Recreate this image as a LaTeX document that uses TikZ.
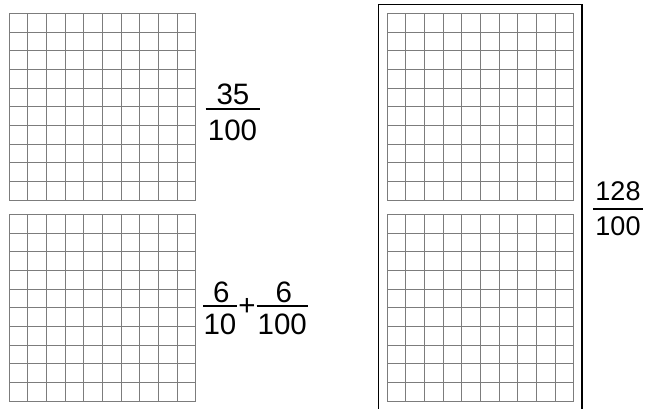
\documentclass[tikz,border=0pt]{standalone}
\usepackage{fontspec}
\setmainfont{Liberation Sans}
\usetikzlibrary{positioning}
\definecolor{gridgray}{HTML}{7C7C7C}

\tikzset{
  cell/.style={draw=gridgray, line width=1pt},
  digits/.style={inner sep=0pt, anchor=base, font=\fontsize{29.5}{32}\selectfont},
  digitsR/.style={inner sep=0pt, anchor=base, font=\fontsize{27}{30}\selectfont},
  fracbar/.style={line width=1.4pt},
}

\begin{document}
\begin{tikzpicture}[x=1pt, y=-1pt]
  \useasboundingbox (0,0) rectangle (653,408);
  % hundred grids
  \foreach \gx/\gy in {9.3/13.7, 9.3/214.6, 387.3/13.7, 387.3/214.6}{
    \foreach \i in {0,...,10}{
      \pgfmathsetmacro{\p}{\i*18.64}
      \draw[cell] (\gx+\p,\gy) -- (\gx+\p,\gy+186.4);
      \draw[cell] (\gx,\gy+\p) -- (\gx+186.4,\gy+\p);
    }
  }
  % frame round the right pair
  \draw[line width=1.2pt] (378.3,412) -- (378.3,4.7) -- (582,4.7) -- (582,412);
  % 35/100
  \node[digits] (n35) at (233,104.3) {35};
  \node[digits] (d35) at (232.5,140) {100};
  \draw[fracbar] (205.7,109) -- (260,109);
  % 6/10 + 6/100
  \node[digits] (nsix) at (221.3,302.3) {6};
  \node[digits] (dten) at (220,334) {10};
  \draw[fracbar] (203,306) -- (236.7,306);
  \node[inner sep=0pt, font=\fontsize{29.5}{32}\selectfont] (plus) at (247,307) {+};
  \node[digits] (nsixb) at (283.8,302.3) {6};
  \node[digits] (dhun) at (282.3,334) {100};
  \draw[fracbar] (256.7,306) -- (308,306);
  % 128/100
  \node[digitsR] (n128) at (618,200.7) {128};
  \node[digitsR] (d128) at (618,235.7) {100};
  \draw[fracbar] (593,209) -- (643,209);
\end{tikzpicture}
\end{document}
